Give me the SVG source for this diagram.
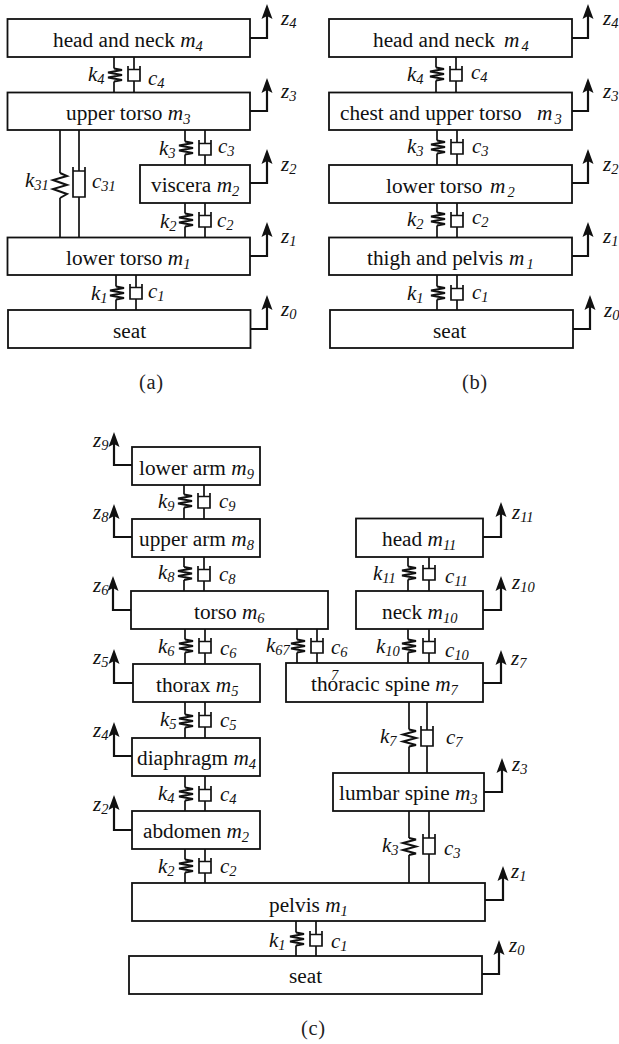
<svg xmlns="http://www.w3.org/2000/svg" width="619" height="1044" viewBox="0 0 619 1044">
<style>
text{font-family:"Liberation Serif","Times New Roman",serif;font-size:21.300px;fill:#111}
.i{font-style:italic;font-size:21px}
.m{font-style:italic}
.s{font-style:italic;font-size:14.500px}
.cap{font-size:20.500px;letter-spacing:.6px;fill:#222}
rect{fill:#fff;stroke:#111;stroke-width:1.800}
.w{fill:none;stroke:#111;stroke-width:1.700}
.t{fill:none;stroke:#111;stroke-width:2}
.a{fill:none;stroke:#111;stroke-width:2.200;marker-end:url(#ah)}
</style>
<defs>
<marker id="ah" markerUnits="userSpaceOnUse" markerWidth="16" markerHeight="12" refX="11" refY="6" orient="auto" viewBox="0 0 16 12"><path d="M0,0.500 L15,6 L0,11.500 L3,6z" fill="#111"/></marker>
<path id="sp" class="t" d="M0,-6.500L8,-5L-6,-2.500L8,0L-6,2.500L8,5L0,6.500"/>
<path id="sl" class="t" d="M0,-8.500L7,-7L-6,-3.500L7,0L-6,3.500L7,7L0,8.500"/>
<path id="da" class="w" d="M-6,-15V0H6V-15M-6,-11.500H6"/>
<path id="dl" class="w" d="M-6,-20V0H6V-20M-6,-16H6"/>
</defs>

<g id="connectors">
<g id="conn-a">
<path class="w" d="M114 57V68.500M114 81.500V92.500M134 57V69.500M134 81V92.500M185 130V141.500M185 154.500V165M205 130V143.500M205 155V165M185 203V213.500M185 226.500V237.500M205 203V215.500M205 227V237.500M116 275V286.500M116 299.500V310M136 275V287.500M136 299V310"/>
<path class="w" d="M60 130V173M60 198V237.500M79 130V171M79 197V237.500M73 167V197H85V167M73 171H85"/>
<path class="t" d="M60 173L67 176L53 180L67 185L53 189L67 194L60 198"/>
<use href="#sp" x="114" y="75"/><use href="#da" x="134" y="81"/>
<use href="#sp" x="185" y="148"/><use href="#da" x="205" y="155"/>
<use href="#sp" x="185" y="220"/><use href="#da" x="205" y="227"/>
<use href="#sp" x="116" y="293"/><use href="#da" x="136" y="299"/>
<path class="a" d="M250 38H267V8"/><path class="a" d="M250 111H267V82"/><path class="a" d="M250 183H267V153"/><path class="a" d="M250 256H267V226"/><path class="a" d="M250 329H267V299"/>
</g>
<g id="conn-b">
<path class="w" d="M436 57V67.500M436 80.500V92.500M456 57V69.500M456 81V92.500M437 130V140.500M437 153.500V165M457 130V142.500M457 154V165M437 203V212.500M437 225.500V237.500M457 203V215.500M457 227V237.500M437 275V286.500M437 299.500V310M457 275V288.500M457 300V310"/>
<use href="#sp" x="436" y="74"/><use href="#da" x="456" y="81"/>
<use href="#sp" x="437" y="147"/><use href="#da" x="457" y="154"/>
<use href="#sp" x="437" y="219"/><use href="#da" x="457" y="227"/>
<use href="#sp" x="437" y="293"/><use href="#da" x="457" y="300"/>
<path class="a" d="M572 38H588V8"/><path class="a" d="M572 111H588V82"/><path class="a" d="M572 183H588V153"/><path class="a" d="M572 256H588V226"/><path class="a" d="M573 329H590V299"/>
</g>
<g id="conn-c">
<path class="w" d="M184 485V494.500M184 507.500V519M204 485V496.500M204 508V519M184 557V567M184 580V591M204 557V569.500M204 581V591M185 629V639.500M185 652.500V664M205 629V641.500M205 653V664M185 702V714.500M185 727.500V738M205 702V715.500M205 727V738M185 776V787.500M185 800.500V811M205 776V789.500M205 801V811M185 849V859.500M185 872.500V883M205 849V861.500M205 873V883M296 921V932.500M296 945.500V956M316 921V934.500M316 946V956M297 629V639.500M297 652.500V663M317 629V641.500M317 653V663M408 557V566.500M408 579.500V591M429 557V568.500M429 580V591M408 629V639.500M408 652.500V663M429 629V641.500M429 653V663M409 702V729.500M409 746.500V773M427 702V730M427 746V773M409 811V838M409 855V883M429 811V838M429 854V883"/>
<use href="#sp" x="184" y="501"/><use href="#da" x="204" y="508"/>
<use href="#sp" x="184" y="573.500"/><use href="#da" x="204" y="581"/>
<use href="#sp" x="185" y="646"/><use href="#da" x="205" y="653"/>
<use href="#sp" x="185" y="721"/><use href="#da" x="205" y="727"/>
<use href="#sp" x="185" y="794"/><use href="#da" x="205" y="801"/>
<use href="#sp" x="185" y="866"/><use href="#da" x="205" y="873"/>
<use href="#sp" x="296" y="939"/><use href="#da" x="316" y="946"/>
<use href="#sp" x="297" y="646"/><use href="#da" x="317" y="653"/>
<use href="#sp" x="408" y="573"/><use href="#da" x="429" y="580"/>
<use href="#sp" x="408" y="646"/><use href="#da" x="429" y="653"/>
<use href="#sl" x="409" y="738"/><use href="#dl" x="427" y="746"/>
<use href="#sl" x="409" y="846.500"/><use href="#dl" x="429" y="854"/>
<path class="a" d="M132 465H114V436"/><path class="a" d="M132 537H114V508"/><path class="a" d="M131 610H113V580"/><path class="a" d="M133 683H114V653"/><path class="a" d="M132 756H114V726"/><path class="a" d="M132 830H114V799"/>
<path class="a" d="M483 537H501V506"/><path class="a" d="M483 610H501V580"/><path class="a" d="M483 683H501V654"/><path class="a" d="M484 792H502V762"/><path class="a" d="M485 900H503V870"/><path class="a" d="M482 974H499V944"/>
</g>
</g>

<g id="a-head"><rect x="7.500" y="19" width="242.500" height="38"/><text x="53" y="47">head and neck <tspan class="m">m</tspan><tspan class="s" dy="4">4</tspan></text></g>
<g id="a-upper"><rect x="7.500" y="92.500" width="242.500" height="37.500"/><text x="66" y="120">upper torso <tspan class="m">m</tspan><tspan class="s" dy="4">3</tspan></text></g>
<g id="a-viscera"><rect x="140" y="165" width="110" height="38"/><text x="151" y="192">viscera <tspan class="m">m</tspan><tspan class="s" dy="4">2</tspan></text></g>
<g id="a-lower"><rect x="7.500" y="237.500" width="242.500" height="37.500"/><text x="66" y="265">lower torso <tspan class="m">m</tspan><tspan class="s" dy="4">1</tspan></text></g>
<g id="a-seat"><rect x="8" y="310" width="242.500" height="38"/><text x="113" y="338">seat</text></g>

<g id="b-head"><rect x="329" y="19" width="243" height="38"/><text x="373" y="47">head and neck <tspan class="m" x="504">m</tspan><tspan class="s" dy="4" dx="2">4</tspan></text></g>
<g id="b-chest"><rect x="329" y="92.500" width="243" height="37.500"/><text x="340" y="120">chest and upper torso <tspan class="m" x="537">m</tspan><tspan class="s" dy="4" dx="2">3</tspan></text></g>
<g id="b-lower"><rect x="329" y="165" width="243" height="38"/><text x="386" y="193">lower torso <tspan class="m" x="490">m</tspan><tspan class="s" dy="4" dx="2">2</tspan></text></g>
<g id="b-thigh"><rect x="329" y="237.500" width="243" height="37.500"/><text x="367" y="265">thigh and pelvis <tspan class="m" x="509">m</tspan><tspan class="s" dy="4" dx="2">1</tspan></text></g>
<g id="b-seat"><rect x="330" y="310" width="243" height="38"/><text x="433" y="338">seat</text></g>

<g id="c-lower-arm"><rect x="132" y="447" width="128" height="38"/><text x="139" y="475">lower arm <tspan class="m">m</tspan><tspan class="s" dy="4">9</tspan></text></g>
<g id="c-upper-arm"><rect x="132" y="519" width="128" height="38"/><text x="139" y="546">upper arm <tspan class="m">m</tspan><tspan class="s" dy="4">8</tspan></text></g>
<g id="c-torso"><rect x="131" y="591" width="197" height="38"/><text x="194" y="619">torso <tspan class="m">m</tspan><tspan class="s" dy="4">6</tspan></text></g>
<g id="c-thorax"><rect x="133" y="664" width="127" height="38"/><text x="156" y="692">thorax <tspan class="m">m</tspan><tspan class="s" dy="4">5</tspan></text></g>
<g id="c-diaphragm"><rect x="132" y="738" width="128" height="38"/><text x="137" y="765">diaphragm <tspan class="m">m</tspan><tspan class="s" dy="4">4</tspan></text></g>
<g id="c-abdomen"><rect x="132" y="811" width="128" height="38"/><text x="143" y="838">abdomen <tspan class="m">m</tspan><tspan class="s" dy="4">2</tspan></text></g>
<g id="c-pelvis"><rect x="132" y="883" width="353" height="38"/><text x="269" y="912">pelvis <tspan class="m">m</tspan><tspan class="s" dy="4">1</tspan></text></g>
<g id="c-seat"><rect x="129" y="956" width="353" height="38"/><text x="289" y="983">seat</text></g>
<g id="c-head"><rect x="356" y="518.500" width="127" height="38.500"/><text x="382" y="546">head <tspan class="m">m</tspan><tspan class="s" dy="4">11</tspan></text></g>
<g id="c-neck"><rect x="356" y="591" width="127" height="38"/><text x="382" y="619">neck <tspan class="m">m</tspan><tspan class="s" dy="4">10</tspan></text></g>
<g id="c-thoracic"><rect x="286" y="663" width="197" height="39"/><text x="311" y="691">thoracic spine <tspan class="m">m</tspan><tspan class="s" dy="4">7</tspan></text><text class="s" x="331" y="680">7</text></g>
<g id="c-lumbar"><rect x="333" y="773" width="151" height="38"/><text x="339" y="800">lumbar spine <tspan class="m">m</tspan><tspan class="s" dy="4">3</tspan></text></g>

<g id="labels">
<text class="i" x="88" y="81">k<tspan class="s" dy="3">4</tspan></text><text class="i" x="148" y="85">c<tspan class="s" dy="3">4</tspan></text>
<text class="i" x="159" y="155">k<tspan class="s" dy="3">3</tspan></text><text class="i" x="218" y="153">c<tspan class="s" dy="3">3</tspan></text>
<text class="i" x="25" y="187">k<tspan class="s" dy="3">31</tspan></text><text class="i" x="92" y="188">c<tspan class="s" dy="3">31</tspan></text>
<text class="i" x="160" y="228">k<tspan class="s" dy="3">2</tspan></text><text class="i" x="217" y="227">c<tspan class="s" dy="3">2</tspan></text>
<text class="i" x="91" y="300">k<tspan class="s" dy="3">1</tspan></text><text class="i" x="148" y="298">c<tspan class="s" dy="3">1</tspan></text>
<text class="i" x="281" y="25">z<tspan class="s" dy="3">4</tspan></text><text class="i" x="281" y="98">z<tspan class="s" dy="3">3</tspan></text><text class="i" x="281" y="171">z<tspan class="s" dy="3">2</tspan></text><text class="i" x="281" y="243">z<tspan class="s" dy="3">1</tspan></text><text class="i" x="281" y="316">z<tspan class="s" dy="3">0</tspan></text>
<text class="cap" x="139" y="389">(a)</text>

<text class="i" x="407" y="81">k<tspan class="s" dy="3">4</tspan></text><text class="i" x="471" y="79">c<tspan class="s" dy="3">4</tspan></text>
<text class="i" x="407" y="153">k<tspan class="s" dy="3">3</tspan></text><text class="i" x="472" y="153">c<tspan class="s" dy="3">3</tspan></text>
<text class="i" x="407" y="226">k<tspan class="s" dy="3">2</tspan></text><text class="i" x="472" y="224">c<tspan class="s" dy="3">2</tspan></text>
<text class="i" x="407" y="300">k<tspan class="s" dy="3">1</tspan></text><text class="i" x="472" y="299">c<tspan class="s" dy="3">1</tspan></text>
<text class="i" x="603" y="25">z<tspan class="s" dy="3">4</tspan></text><text class="i" x="603" y="98">z<tspan class="s" dy="3">3</tspan></text><text class="i" x="603" y="171">z<tspan class="s" dy="3">2</tspan></text><text class="i" x="603" y="243">z<tspan class="s" dy="3">1</tspan></text><text class="i" x="604" y="317">z<tspan class="s" dy="3">0</tspan></text>
<text class="cap" x="462" y="389">(b)</text>

<text class="i" x="158" y="508">k<tspan class="s" dy="3">9</tspan></text><text class="i" x="219" y="508">c<tspan class="s" dy="3">9</tspan></text>
<text class="i" x="158" y="579">k<tspan class="s" dy="3">8</tspan></text><text class="i" x="219" y="581">c<tspan class="s" dy="3">8</tspan></text>
<text class="i" x="158" y="653">k<tspan class="s" dy="3">6</tspan></text><text class="i" x="220" y="655">c<tspan class="s" dy="3">6</tspan></text>
<text class="i" x="266" y="652">k<tspan class="s" dy="3">67</tspan></text><text class="i" x="331" y="654">c<tspan class="s" dy="3">6</tspan></text>
<text class="i" x="160" y="726">k<tspan class="s" dy="3">5</tspan></text><text class="i" x="220" y="727">c<tspan class="s" dy="3">5</tspan></text>
<text class="i" x="158" y="800">k<tspan class="s" dy="3">4</tspan></text><text class="i" x="220" y="801">c<tspan class="s" dy="3">4</tspan></text>
<text class="i" x="158" y="873">k<tspan class="s" dy="3">2</tspan></text><text class="i" x="220" y="873">c<tspan class="s" dy="3">2</tspan></text>
<text class="i" x="269" y="947">k<tspan class="s" dy="3">1</tspan></text><text class="i" x="331" y="948">c<tspan class="s" dy="3">1</tspan></text>
<text class="i" x="373" y="580">k<tspan class="s" dy="3">11</tspan></text><text class="i" x="445" y="583">c<tspan class="s" dy="3">11</tspan></text>
<text class="i" x="376" y="653">k<tspan class="s" dy="3">10</tspan></text><text class="i" x="445" y="657">c<tspan class="s" dy="3">10</tspan></text>
<text class="i" x="380" y="743">k<tspan class="s" dy="3">7</tspan></text><text class="i" x="446" y="744">c<tspan class="s" dy="3">7</tspan></text>
<text class="i" x="382" y="852">k<tspan class="s" dy="3">3</tspan></text><text class="i" x="444" y="855">c<tspan class="s" dy="3">3</tspan></text>
<text class="i" x="93" y="447">z<tspan class="s" dy="3">9</tspan></text><text class="i" x="93" y="519">z<tspan class="s" dy="3">8</tspan></text><text class="i" x="93" y="592">z<tspan class="s" dy="3">6</tspan></text><text class="i" x="93" y="664">z<tspan class="s" dy="3">5</tspan></text><text class="i" x="93" y="737">z<tspan class="s" dy="3">4</tspan></text><text class="i" x="93" y="811">z<tspan class="s" dy="3">2</tspan></text>
<text class="i" x="512" y="519">z<tspan class="s" dy="3">11</tspan></text><text class="i" x="512" y="589">z<tspan class="s" dy="3">10</tspan></text><text class="i" x="511" y="665">z<tspan class="s" dy="3">7</tspan></text><text class="i" x="512" y="771">z<tspan class="s" dy="3">3</tspan></text><text class="i" x="511" y="878">z<tspan class="s" dy="3">1</tspan></text><text class="i" x="509" y="952">z<tspan class="s" dy="3">0</tspan></text>
<text class="cap" x="301" y="1035">(c)</text>
</g>
</svg>
